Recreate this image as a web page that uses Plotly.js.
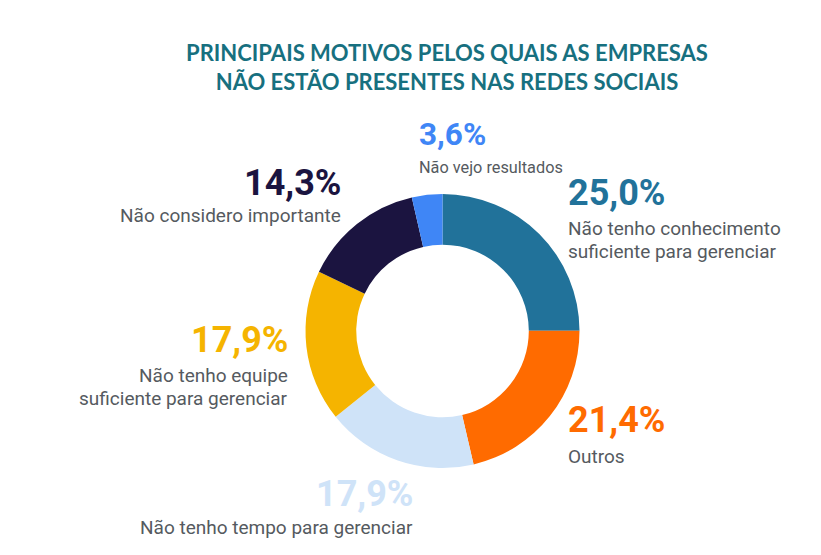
<!DOCTYPE html>
<html><head><meta charset="utf-8">
<script src="https://cdn.plot.ly/plotly-3.0.1.min.js"></script>
<style>body{margin:0;background:#fff}#c{width:821px;height:555px}</style>
</head><body><div id="c"></div>
<script>
const categories = ["Não tenho conhecimento<br>suficiente para gerenciar", "Outros", "Não tenho tempo para gerenciar", "Não tenho equipe<br>suficiente para gerenciar", "Não considero importante", "Não vejo resultados"];
const values = [25.0, 21.4, 17.9, 17.9, 14.3, 3.6];
const pctLabels = ["25,0%", "21,4%", "17,9%", "17,9%", "14,3%", "3,6%"];
const colors = ["#21729a", "#ff6b00", "#cfe3f8", "#f5b400", "#1b1440", "#3f86f6"];

const W = 821, H = 555;
const px = x => x / W, py = y => 1 - y / H;
const cx = 442.5, cy = 331, R = 137;

// label anchor positions (pixel): [x, yPct, yText, align, pctSize, textSize]
const pos = [
  [566, 193, 228, "left", 36, 19],
  [566, 420, 456, "left", 36, 19],
  [415, 494, 527, "right", 36, 19],
  [290, 340, 375, "right", 36, 19],
  [343, 183, 215, "right", 36, 19],
  [417, 135, 167, "left", 31.5, 16.3]
];

const annotations = [];
values.forEach((v, i) => {
  const [x, y1, y2, al, ps, ts] = pos[i];
  annotations.push({xref: "paper", yref: "paper", x: px(x), y: py(y1), xanchor: al, yanchor: "middle",
    text: "<b>" + pctLabels[i] + "</b>", showarrow: false,
    font: {family: "Roboto", size: ps, color: colors[i]}});
  categories[i].split("<br>").forEach((line, k) => {
    annotations.push({xref: "paper", yref: "paper", x: px(x), y: py(y2 + 23 * k), xanchor: al, yanchor: "middle", align: al,
      text: line, showarrow: false,
      font: {family: "Roboto", size: ts, color: "#555a60"}});
  });
});

const data = [{
  type: "pie", values: values, labels: categories, marker: {colors: colors, line: {width: 0}},
  hole: 0.63, sort: false, direction: "clockwise", rotation: 0,
  textinfo: "none", hoverinfo: "none", showlegend: false,
  domain: {x: [px(cx - R), px(cx + R)], y: [(H - cy - R) / H, (H - cy + R) / H]}
}];

const layout = {
  width: W, height: H, margin: {l: 0, r: 0, t: 0, b: 0},
  paper_bgcolor: "#fff", showlegend: false,
  title: {text: "<b>PRINCIPAIS MOTIVOS PELOS QUAIS AS EMPRESAS<br>NÃO ESTÃO PRESENTES NAS REDES SOCIAIS</b>",
    x: 447 / W, xanchor: "center", y: 1 - 61 / H, yanchor: "middle",
    font: {family: "Lato", size: 22, color: "#17707f"}},
  annotations: annotations
};
Plotly.newPlot("c", data, layout, {displayModeBar: false});
</script></body></html>
